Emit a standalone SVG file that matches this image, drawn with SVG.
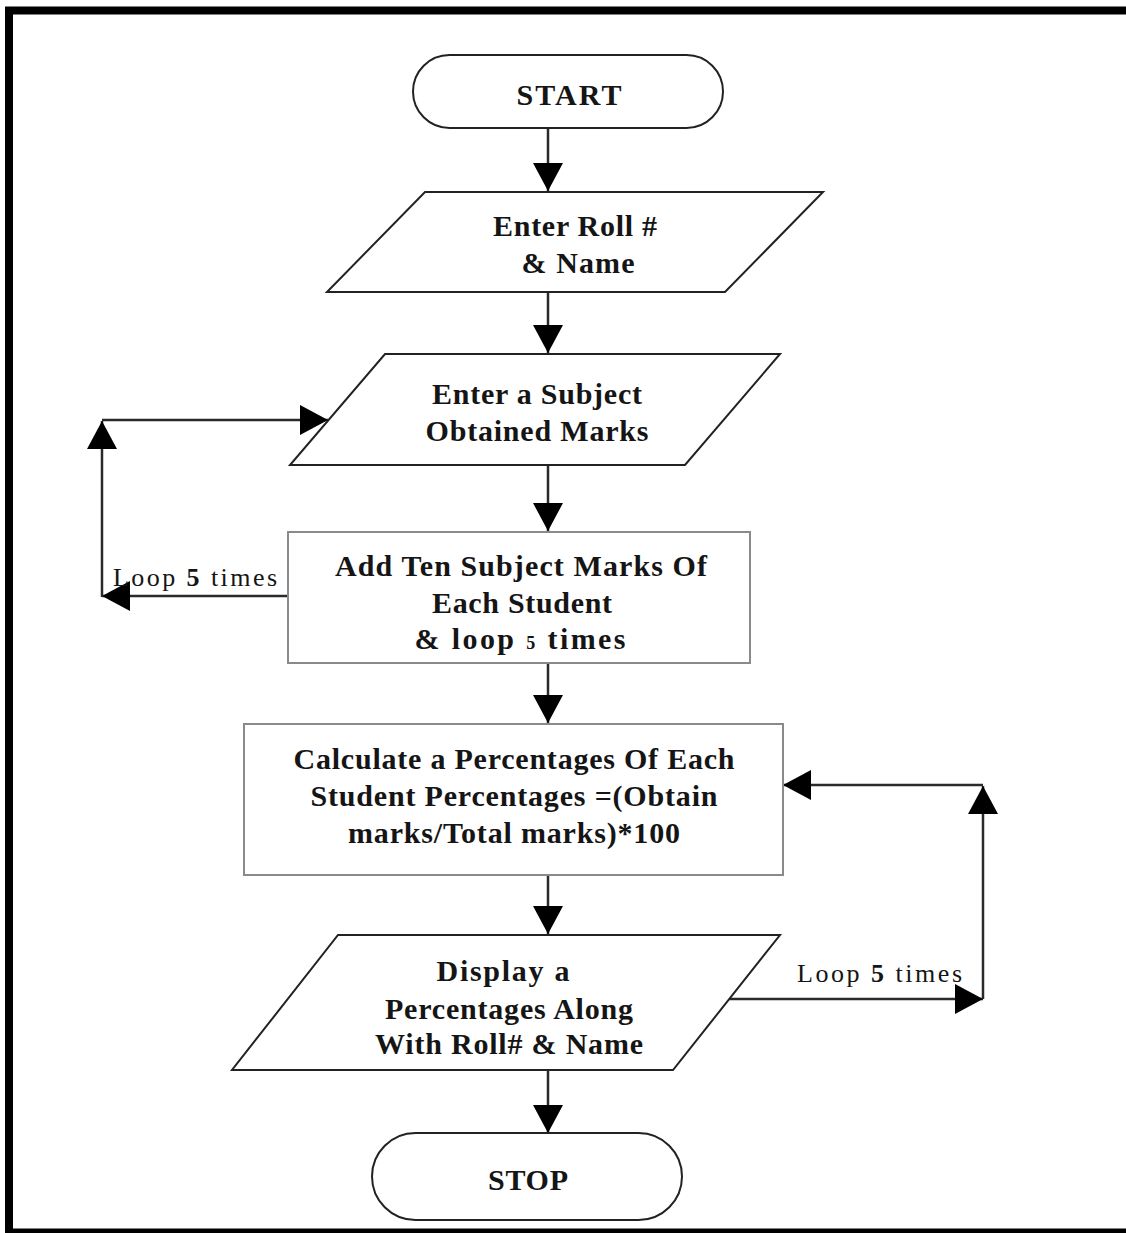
<svg xmlns="http://www.w3.org/2000/svg" width="1126" height="1233" viewBox="0 0 1126 1233">
<style>
.t{font-family:"Liberation Serif","Times New Roman",serif;font-weight:bold;font-size:30px;fill:#151515;text-anchor:middle}
.l{font-family:"Liberation Serif","Times New Roman",serif;font-size:26px;fill:#151515}
.b{font-weight:bold}
.sh{fill:#fff;stroke:#222;stroke-width:2}
.bx{fill:#fff;stroke:#8a8a8a;stroke-width:2}
.c{fill:none;stroke:#2a2a2a;stroke-width:2.5}
</style>
<defs>
<marker id="ah" viewBox="0 0 28 30" refX="28" refY="15" markerWidth="28" markerHeight="30" markerUnits="userSpaceOnUse" orient="auto">
<path d="M0,0 L28,15 L0,30 z" fill="#000"/>
</marker>
</defs>
<rect x="0" y="0" width="1126" height="1233" fill="#fff"/>
<rect x="9" y="10.5" width="1140" height="1222" fill="none" stroke="#000" stroke-width="8"/>

<g id="connectors">
<path class="c" d="M548,128 V191" marker-end="url(#ah)"/>
<path class="c" d="M548,292 V353" marker-end="url(#ah)"/>
<path class="c" d="M548,465 V531" marker-end="url(#ah)"/>
<path class="c" d="M548,663 V723" marker-end="url(#ah)"/>
<path class="c" d="M548,875 V934" marker-end="url(#ah)"/>
<path class="c" d="M548,1070 V1133" marker-end="url(#ah)"/>
<path class="c" d="M288,596 H102" marker-end="url(#ah)"/>
<path class="c" d="M102,597 V421" marker-end="url(#ah)"/>
<path class="c" d="M102,420 H328" marker-end="url(#ah)"/>
<path class="c" d="M722,999 H983" marker-end="url(#ah)"/>
<path class="c" d="M983,999 V786" marker-end="url(#ah)"/>
<path class="c" d="M983,785 H783" marker-end="url(#ah)"/>
<text class="l" x="113" y="586" textLength="164" lengthAdjust="spacing">Loop <tspan class="b">5</tspan>  times</text>
<text class="l" x="797" y="982" textLength="165" lengthAdjust="spacing">Loop <tspan class="b">5</tspan>  times</text>
</g>

<g id="start">
<rect class="sh" x="413" y="55" width="310" height="73" rx="36.5"/>
<text class="t" x="569" y="105" font-size="31" textLength="105">START</text>
</g>

<g id="enter-roll">
<polygon class="sh" points="425,192 823,192 725,292 327,292"/>
<text class="t" x="575" y="236" textLength="164">Enter Roll #</text>
<text class="t" x="578" y="273" textLength="113">&amp; Name</text>
</g>

<g id="enter-subject">
<polygon class="sh" points="385,354 780,354 685,465 290,465"/>
<text class="t" x="537" y="404" textLength="210">Enter a Subject</text>
<text class="t" x="537" y="441" textLength="223">Obtained Marks</text>
</g>

<g id="add-marks">
<rect class="bx" x="288" y="532" width="462" height="131"/>
<text class="t" x="521" y="576" textLength="372">Add Ten Subject Marks Of</text>
<text class="t" x="522" y="613" textLength="180">Each Student</text>
<text class="t" x="520" y="649" textLength="211">&amp; loop <tspan font-size="18">5</tspan>  times</text>
</g>

<g id="calculate">
<rect class="bx" x="244" y="724" width="539" height="151"/>
<text class="t" x="514" y="769" textLength="441">Calculate a Percentages Of Each</text>
<text class="t" x="514" y="806" textLength="407">Student Percentages =(Obtain</text>
<text class="t" x="514" y="843" textLength="332">marks/Total marks)*100</text>
</g>

<g id="display">
<polygon class="sh" points="338,935 780,935 673,1070 232,1070"/>
<text class="t" x="503" y="981" textLength="133">Display a</text>
<text class="t" x="509" y="1019" textLength="248">Percentages Along</text>
<text class="t" x="509" y="1054" textLength="268">With Roll# &amp; Name</text>
</g>

<g id="stop">
<rect class="sh" x="372" y="1133" width="310" height="87" rx="43.5"/>
<text class="t" x="528" y="1190" font-size="31" textLength="80">STOP</text>
</g>
</svg>
